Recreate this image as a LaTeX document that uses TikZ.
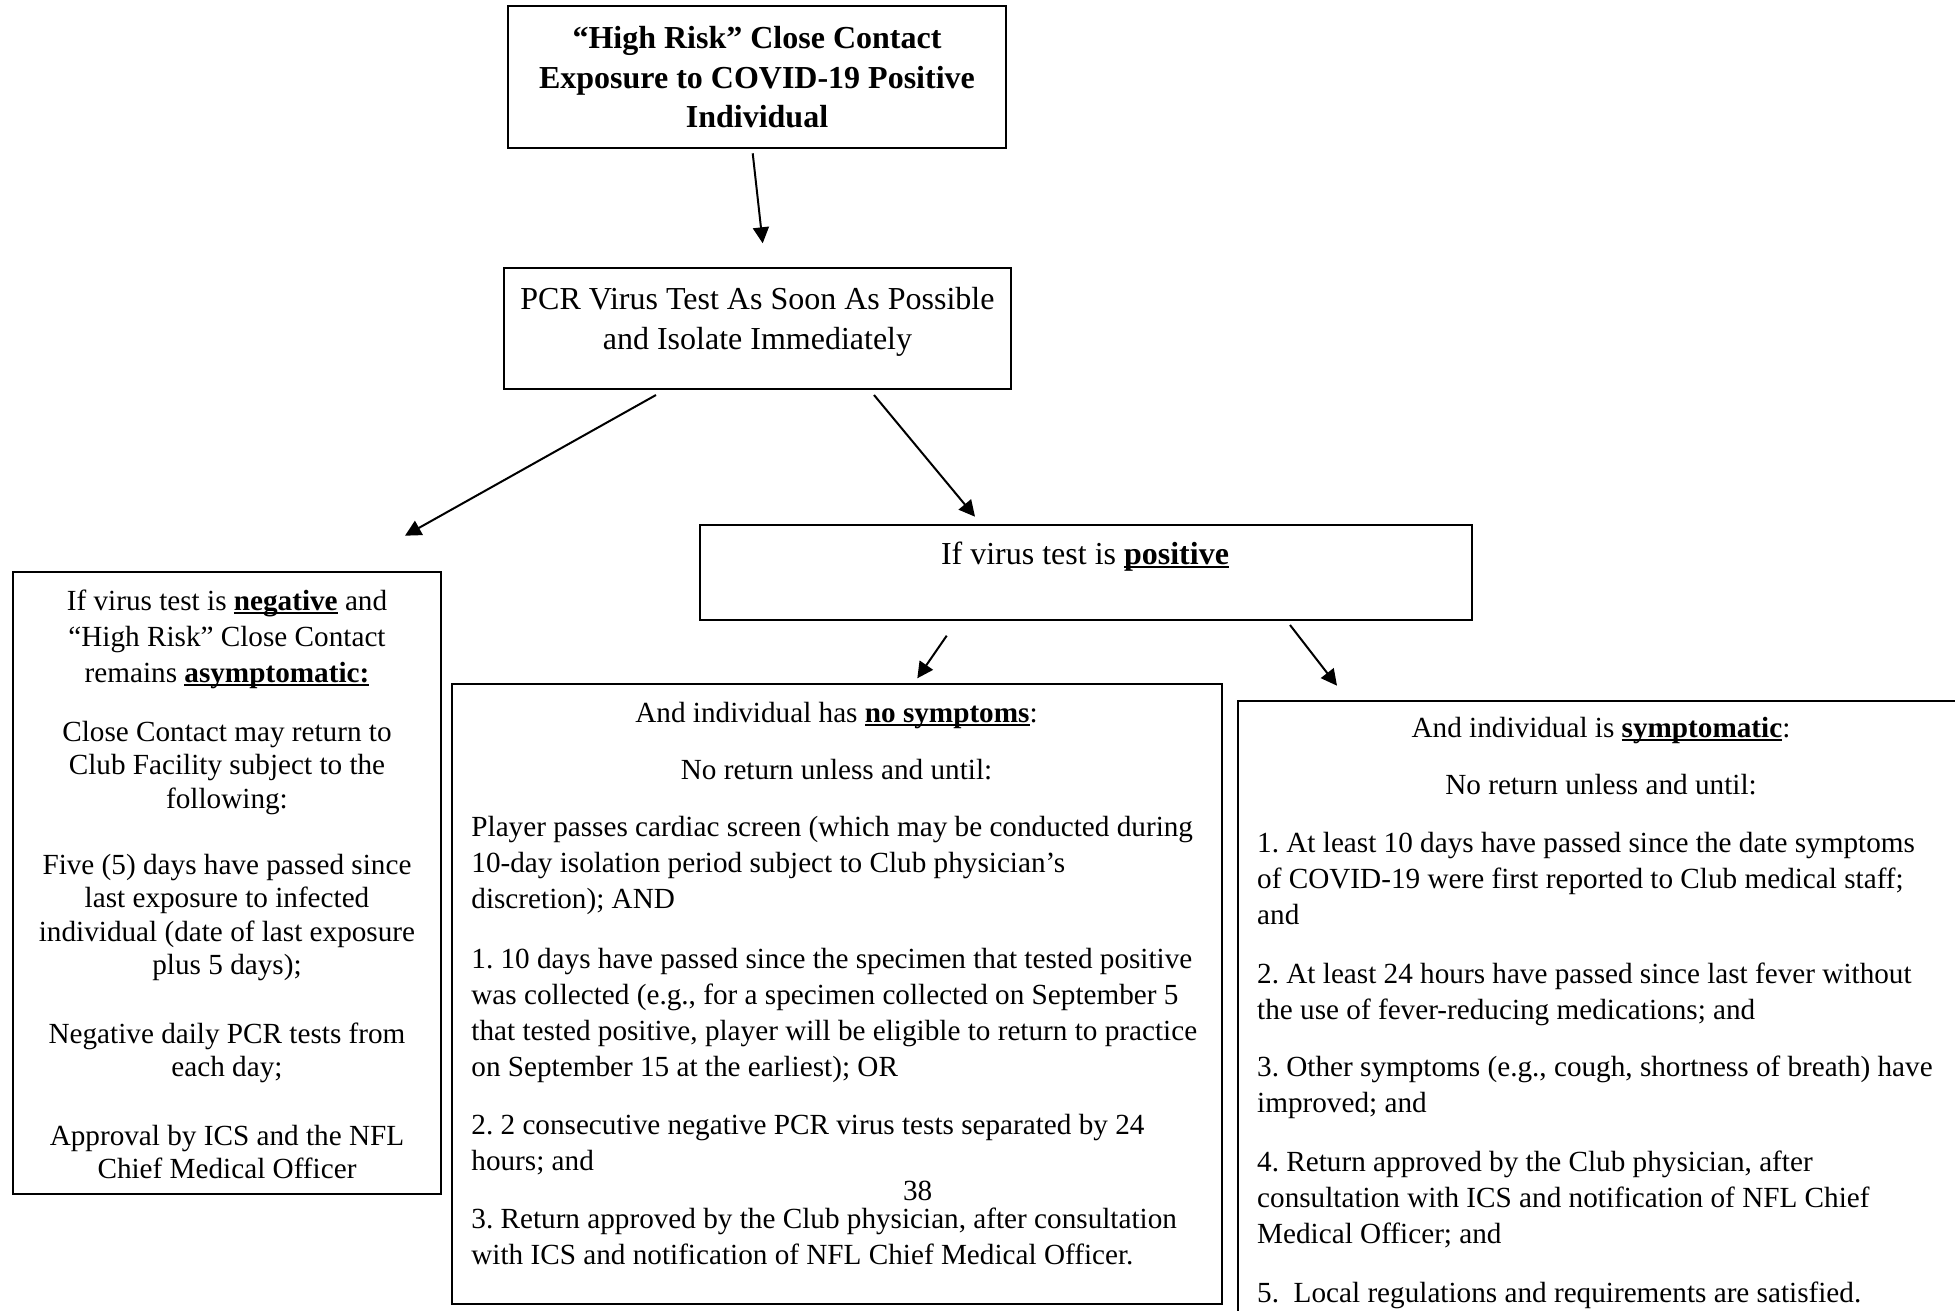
\documentclass[tikz,border=0pt]{standalone}
\usepackage{fontspec}
\setmainfont{Liberation Serif}
\usetikzlibrary{arrows.meta,fit}
\frenchspacing
\newcommand\myul[1]{\setbox0=\hbox{#1}\rlap{\rule[-0.12em]{\wd0}{0.065em}}\box0\relax}
\newcommand\bodyfont{\fontsize{14.6pt}{18pt}\selectfont}
\newcommand\leftfont{\fontsize{14.6pt}{16.65pt}\selectfont}
\begin{document}
\begin{tikzpicture}[x=0.5pt,y=-0.5pt,
  box/.style={draw, line width=1pt, inner sep=0pt},
  arr/.style={line width=1pt, -{Triangle[length=8pt,width=8pt]}},
  txt/.style={inner sep=0pt, anchor=base, yshift=-0.7pt},
]
\useasboundingbox (0,0) rectangle (1955,1311);

% boxes
\node[box, fit={(507.5,6) (1006,148.5)}] (top) {};
\node[box, fit={(504,268) (1011,389)}] (pcr) {};
\node[box, fit={(699.5,525) (1471.5,620)}] (pos) {};
\node[box, fit={(12.5,572) (441,1194)}] (neg) {};
\node[box, fit={(451.5,684) (1222,1304)}] (nosym) {};
\node[box, fit={(1238,700.7) (1968,1340)}] (sym) {};

% arrows
\coordinate (a1s) at (752.7,153.3); \coordinate (a1e) at (762.7,243.3);
\coordinate (a2s) at (656,395);     \coordinate (a2e) at (405,535.7);
\coordinate (a3s) at (874,395);     \coordinate (a3e) at (975,516.7);
\coordinate (a4s) at (946.7,635.7); \coordinate (a4e) at (917.3,678.3);
\coordinate (a5s) at (1290,625);    \coordinate (a5e) at (1337,685.7);
\draw[arr] (a1s) -- (a1e);
\draw[arr] (a2s) -- (a2e);
\draw[arr] (a3s) -- (a3e);
\draw[arr] (a4s) -- (a4e);
\draw[arr] (a5s) -- (a5e);

% top text
\node[txt] (ttop) at (757,47.5) {\begin{minipage}[t]{240pt}\centering\fontsize{16pt}{19.75pt}\selectfont\bfseries
“High Risk” Close Contact\\ Exposure to COVID-19 Positive\\ Individual\end{minipage}};

\node[txt] (tpcr) at (757.5,308) {\begin{minipage}[t]{240pt}\centering\fontsize{16pt}{20pt}\selectfont
PCR Virus Test As Soon As Possible\\ and Isolate Immediately\end{minipage}};

\node[txt] (tpos) at (1085,563) {\fontsize{16pt}{20pt}\selectfont If virus test is \myul{\textbf{positive}}};

% left box
\node[txt] (n1) at (227,609) {\begin{minipage}[t]{210pt}\centering\bodyfont
If virus test is \myul{\textbf{negative}} and\\ “High Risk” Close Contact\\ remains \myul{\textbf{asymptomatic:}}\end{minipage}};
\node[txt] (n2) at (227,740) {\begin{minipage}[t]{210pt}\centering\leftfont
Close Contact may return to\\ Club Facility subject to the\\ following:\end{minipage}};
\node[txt] (n3) at (227,873) {\begin{minipage}[t]{210pt}\centering\leftfont
Five (5) days have passed since\\ last exposure to infected\\ individual (date of last exposure\\ plus 5 days);\end{minipage}};
\node[txt] (n4) at (227,1041.6) {\begin{minipage}[t]{210pt}\centering\leftfont
Negative daily PCR tests from\\ each day;\end{minipage}};
\node[txt] (n5) at (227,1144) {\begin{minipage}[t]{210pt}\centering\leftfont
Approval by ICS and the NFL\\ Chief Medical Officer\end{minipage}};

% middle box
\node[txt] (m1) at (836.5,721) {\bodyfont And individual has \myul{\textbf{no symptoms}}:};
\node[txt] (m2) at (836.5,778.5) {\bodyfont No return unless and until:};
\node[txt, anchor=base west] (m3) at (471,834.6) {\begin{minipage}[t]{400pt}\raggedright\bodyfont
Player passes cardiac screen (which may be conducted during\\ 10-day isolation period subject to Club physician’s\\ discretion); AND\end{minipage}};
\node[txt, anchor=base west] (m4) at (471,966.8) {\begin{minipage}[t]{400pt}\raggedright\bodyfont
1. 10 days have passed since the specimen that tested positive\\ was collected (e.g., for a specimen collected on September 5\\ that tested positive, player will be eligible to return to practice\\ on September 15 at the earliest); OR\end{minipage}};
\node[txt, anchor=base west] (m5) at (471,1132.6) {\begin{minipage}[t]{400pt}\raggedright\bodyfont
2. 2 consecutive negative PCR virus tests separated by 24\\ hours; and\end{minipage}};
\node[txt, anchor=base west] (m6) at (471,1227.4) {\begin{minipage}[t]{400pt}\raggedright\bodyfont
3. Return approved by the Club physician, after consultation\\ with ICS and notification of NFL Chief Medical Officer.\end{minipage}};
\node[txt] (page) at (917.6,1198.7) {\bodyfont 38};

% right box
\node[txt] (s1) at (1601,736) {\bodyfont And individual is \myul{\textbf{symptomatic}}:};
\node[txt] (s2) at (1601,793.5) {\bodyfont No return unless and until:};
\node[txt, anchor=base west] (s3) at (1256.8,851) {\begin{minipage}[t]{400pt}\raggedright\bodyfont
1. At least 10 days have passed since the date symptoms\\ of COVID-19 were first reported to Club medical staff;\\ and\end{minipage}};
\node[txt, anchor=base west] (s4) at (1256.8,981.8) {\begin{minipage}[t]{400pt}\raggedright\bodyfont
2. At least 24 hours have passed since last fever without\\ the use of fever-reducing medications; and\end{minipage}};
\node[txt, anchor=base west] (s5) at (1256.8,1075) {\begin{minipage}[t]{400pt}\raggedright\bodyfont
3. Other symptoms (e.g., cough, shortness of breath) have\\ improved; and\end{minipage}};
\node[txt, anchor=base west] (s6) at (1256.8,1170) {\begin{minipage}[t]{400pt}\raggedright\bodyfont
4. Return approved by the Club physician, after\\ consultation with ICS and notification of NFL Chief\\ Medical Officer; and\end{minipage}};
\node[txt, anchor=base west] (s7) at (1256.8,1301) {\bodyfont 5.\ \ Local regulations and requirements are satisfied.};
\end{tikzpicture}
\end{document}
